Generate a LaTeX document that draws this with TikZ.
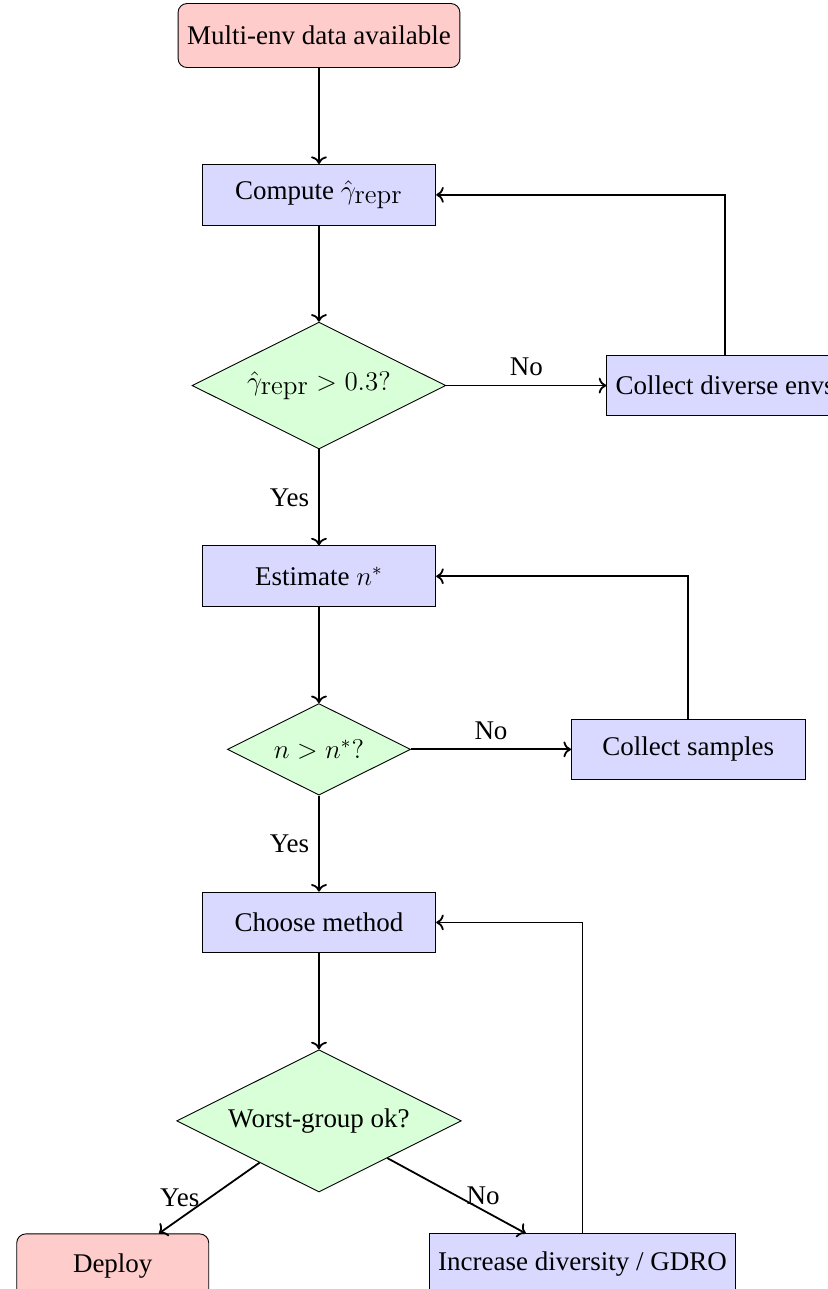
\documentclass[tikz,border=0pt,12pt]{standalone}
\usepackage[no-math]{fontspec}
\setmainfont{Liberation Serif}
\usetikzlibrary{arrows.meta, positioning, shapes.geometric}

\tikzset{
  startstop/.style={rectangle, rounded corners, draw, fill=red!20, minimum width=3cm, minimum height=1cm},
  process/.style={rectangle, draw, fill=blue!15, minimum width=3.65cm, minimum height=0.95cm},
  decision/.style={diamond, aspect=2, draw, fill=green!15},
  flow/.style={thick, ->}
}

\begin{document}
\begin{tikzpicture}[node distance=1.5cm]
  \useasboundingbox (-4.984,0.555) rectangle (7.953,-19.586);
  \clip (-4.984,0.555) rectangle (7.953,-19.586);

  % Main column
  \node[startstop] (start) {Multi-env data available};
  \node[process, below=of start] (gamma) {Compute $\hat{\gamma}_{\textstyle\mathrm{repr}}$};
  \node[decision, below=of gamma] (checkgamma) {$\hat{\gamma}_{\textstyle\mathrm{repr}} > 0.3?$};
  \node[process, below=of checkgamma] (nstar) {Estimate $n^*$};
  \node[decision, below=of nstar] (checkn) {$n > n^*?$};
  \node[process, below=of checkn] (method) {Choose method};
  \node[decision, below=of method] (worst) {Worst-group ok?};

  % Side branches
  \node[process, right=2.5cm of checkgamma] (envs) {Collect diverse envs};
  \node[process, right=2.5cm of checkn] (samples) {Collect samples};
  \node[startstop, below left=1.2cm and 0.6cm of worst] (deploy) {Deploy};
  \node[process, below right=1.2cm and 0.6cm of worst] (gdro) {Increase diversity / GDRO};

  % Forward arrows
  \draw[flow] (start) -- (gamma);
  \draw[flow] (gamma) -- (checkgamma);
  \draw[flow] (checkgamma) -- node[left] {Yes} (nstar);
  \draw[flow] (checkgamma) -- node[above] {No} (envs);
  \draw[flow] (nstar) -- (checkn);
  \draw[flow] (checkn) -- node[left] {Yes} (method);
  \draw[flow] (checkn) -- node[above] {No} (samples);
  \draw[flow] (method) -- (worst);
  \draw[flow] (worst) -- node[left] {Yes} (deploy);
  \draw[flow] (worst) -- node[right] {No} (gdro);

  % Loops back
  \draw[flow] (envs) |- (gamma);
  \draw[flow] (samples) |- (nstar);
  \draw[flow] (gdro) |- (method);
\end{tikzpicture}
\end{document}
